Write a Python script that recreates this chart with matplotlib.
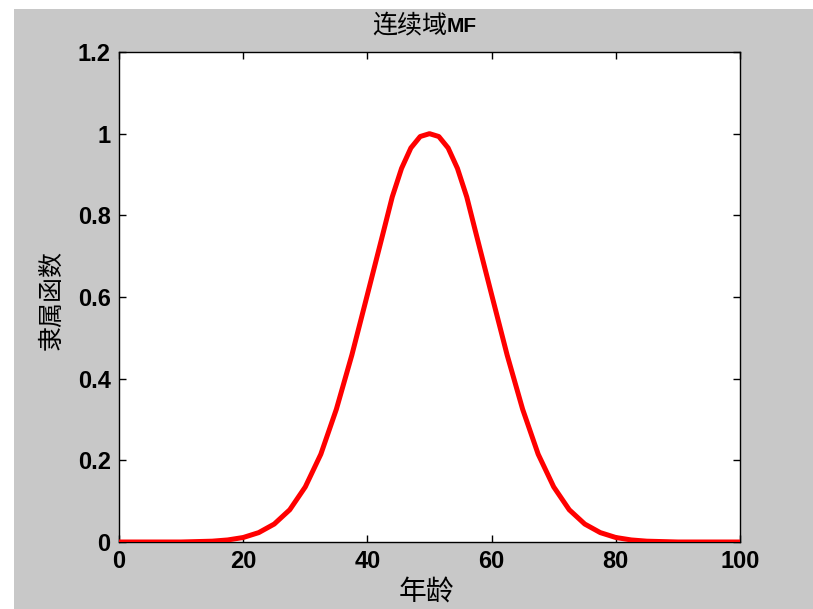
import matplotlib

matplotlib.use("Agg")
import matplotlib.pyplot as plt
from matplotlib.patches import Rectangle

# membership curve for age; denser samples around the rounded peak
age = [0, 2.5, 5, 7.5, 10, 12.5, 15, 17.5, 20, 22.5, 25, 27.5, 30, 32.5, 35,
       37.5, 40, 42.5, 44, 45.5, 47, 48.5, 50, 51.5, 53, 54.5, 56, 57.5, 60,
       62.5, 65, 67.5, 70, 72.5, 75, 77.5, 80, 82.5, 85, 87.5, 90, 92.5, 95,
       97.5, 100]
membership = [0, 0, 0, 0, 0, 0.001, 0.002, 0.005, 0.011, 0.023, 0.044, 0.079,
              0.135, 0.215, 0.325, 0.458, 0.606, 0.755, 0.845, 0.915, 0.965,
              0.993, 1.0, 0.993, 0.965, 0.915, 0.845, 0.755, 0.606, 0.458,
              0.325, 0.215, 0.135, 0.079, 0.044, 0.023, 0.011, 0.005, 0.002,
              0.001, 0, 0, 0, 0, 0]
xticks = [0, 20, 40, 60, 80, 100]
yticks = [0, 0.2, 0.4, 0.6, 0.8, 1.0, 1.2]
yticklabels = ["0", "0.2", "0.4", "0.6", "0.8", "1", "1.2"]

W, H = 813, 609
fig = plt.figure(figsize=(W / 100, H / 100), dpi=100, facecolor="white")
# grey figure panel with a thin white margin on the left and top
fig.patches.append(Rectangle((14 / W, 0), 1, 1 - 9 / H, transform=fig.transFigure,
                             facecolor="#c8c8c8", edgecolor="none", zorder=-10))

ax = fig.add_axes([119 / W, 1 - 542 / H, 621 / W, 490 / H])
ax.set_facecolor("white")
ax.plot(age, membership, color="red", lw=3.6, solid_joinstyle="round",
        solid_capstyle="butt", zorder=5)

ax.set_xlim(0, 100)
ax.set_ylim(0, 1.2)
ax.set_xticks(xticks)
ax.set_yticks(yticks)
ax.set_yticklabels(yticklabels)
ax.tick_params(direction="in", length=5, width=1, top=True, right=True,
               labelsize=17, pad=6, colors="black")
for lab in ax.get_xticklabels() + ax.get_yticklabels():
    lab.set_fontfamily("Liberation Sans")
    lab.set_fontweight("bold")
for s in ax.spines.values():
    s.set_linewidth(1)
    s.set_color("black")

cjk = ["Noto Sans CJK SC", "DejaVu Sans"]
fig.text(426 / W, 1 - 592 / H, "年龄", ha="center", va="center",
         fontsize=20, family=cjk)
fig.text(52 / W, 1 - 300 / H, "隶属函数", ha="center", va="center",
         rotation=90, fontsize=18, family=cjk)
fig.text(447 / W, 1 - 32 / H, "连续域", ha="right", va="baseline",
         fontsize=18, family=cjk)
fig.text(447 / W, 1 - 32 / H, "MF", ha="left", va="baseline",
         fontsize=15, fontweight="bold", family="Liberation Sans")

fig.savefig("out.png", dpi=100)
plt.close(fig)
